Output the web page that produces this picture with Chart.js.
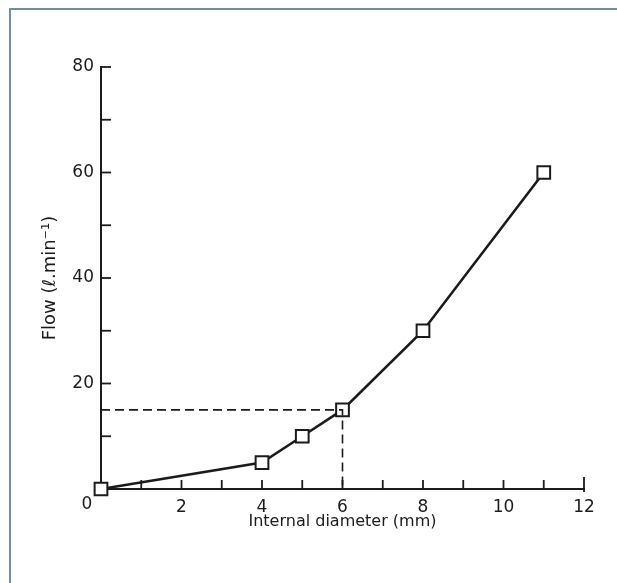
<!DOCTYPE html>
<html>
<head>
<meta charset="utf-8">
<script src="https://cdn.jsdelivr.net/npm/chart.js@4.4.1/dist/chart.umd.min.js"></script>
<style>
  html, body { margin: 0; padding: 0; background: #fff; }
  #wrap { position: relative; width: 617px; height: 583px; overflow: hidden; }
  #frame { position: absolute; left: 9px; top: 8px; width: 700px; height: 700px;
           border-top: 2px solid #6f8e99; border-left: 2px solid #6f8e99; }
  canvas { position: absolute; left: 0; top: 0; }
</style>
</head>
<body>
<div id="wrap">
  <div id="frame"></div>
  <canvas id="chart" width="617" height="583"></canvas>
</div>
<script>
// Flow vs internal diameter
const diameter = [0, 4, 5, 6, 8, 11];
const flow = [0, 5, 10, 15, 30, 60];

// dashed guide at 6 mm
const guideX = [0, 6, 6];
const guideY = [15, 15, 0];

const xLabels = [0, 2, 4, 6, 8, 10, 12];
const yLabels = [20, 40, 60, 80];

const INK = "#1b1b1b";
const FONT = "'DejaVu Sans', sans-serif";

// ticks pointing into the plot, like the original drawing
const inwardTicks = {
  id: "inwardTicks",
  beforeDatasetsDraw(chart) {
    const { ctx, scales } = chart;
    const x = scales.x, y = scales.y;
    const x0 = x.getPixelForValue(0);
    const y0 = y.getPixelForValue(0);
    ctx.save();
    ctx.strokeStyle = INK;
    ctx.lineWidth = 1.8;
    x.ticks.forEach((t) => {
      if (t.value === 0) return;
      const px = x.getPixelForValue(t.value);
      const len = t.value === 12 ? 12 : 9;
      ctx.beginPath();
      ctx.moveTo(px, y0 + (t.value === 12 ? 3 : 0));
      ctx.lineTo(px, y0 - len);
      ctx.stroke();
    });
    y.ticks.forEach((t) => {
      if (t.value === 0) return;
      const py = y.getPixelForValue(t.value);
      ctx.beginPath();
      ctx.moveTo(x0, py);
      ctx.lineTo(x0 + 10, py);
      ctx.stroke();
    });
    // the origin label sits left of the axis in the source
    ctx.fillStyle = INK;
    ctx.font = "17px " + FONT;
    ctx.textAlign = "center";
    ctx.textBaseline = "middle";
    ctx.fillText("0", x0 - 14, y0 + 16);
    ctx.restore();
  },
};

new Chart(document.getElementById("chart"), {
  type: "line",
  data: {
    datasets: [
      {
        label: "guide",
        data: guideX.map((v, i) => ({ x: v, y: guideY[i] })),
        borderColor: INK,
        borderWidth: 1.6,
        borderDash: [9, 5],
        pointRadius: 0,
        fill: false,
        clip: false,
      },
      {
        label: "Flow",
        data: diameter.map((v, i) => ({ x: v, y: flow[i] })),
        borderColor: INK,
        borderWidth: 2.6,
        pointStyle: "rect",
        pointRadius: 9,
        pointBorderWidth: 2,
        pointBackgroundColor: "#fff",
        pointBorderColor: INK,
        fill: false,
        tension: 0,
        clip: false,
      },
    ],
  },
  options: {
    responsive: false,
    animation: false,
    events: [],
    layout: { padding: { top: 67, right: 33, left: 0, bottom: 0 } },
    plugins: { legend: { display: false }, tooltip: { enabled: false } },
    scales: {
      x: {
        type: "linear",
        min: 0,
        max: 12,
        afterFit: (s) => { s.height = 94; },
        grid: { drawOnChartArea: false, drawTicks: false },
        border: { display: true, color: INK, width: 2 },
        ticks: {
          stepSize: 1,
          autoSkip: false,
          maxRotation: 0,
          padding: 8,
          color: INK,
          font: { family: FONT, size: 17 },
          callback: (v) => (v !== 0 && xLabels.includes(v) ? String(v) : ""),
        },
        title: {
          display: true,
          text: "Internal diameter (mm)",
          color: INK,
          font: { family: FONT, size: 16 },
          padding: { top: 0, bottom: 52 },
        },
      },
      y: {
        min: 0,
        max: 80,
        afterFit: (s) => { s.width = 101; },
        grid: { drawOnChartArea: false, drawTicks: false },
        border: { display: true, color: INK, width: 2 },
        ticks: {
          stepSize: 10,
          autoSkip: false,
          padding: 7,
          color: INK,
          font: { family: FONT, size: 17 },
          callback: (v) => (yLabels.includes(v) ? String(v) : ""),
        },
        title: {
          display: true,
          text: "Flow (ℓ.min⁻¹)",
          color: INK,
          font: { family: FONT, size: 18 },
          padding: { top: 40, bottom: 0 },
        },
      },
    },
  },
  plugins: [inwardTicks],
});
</script>
</body>
</html>
